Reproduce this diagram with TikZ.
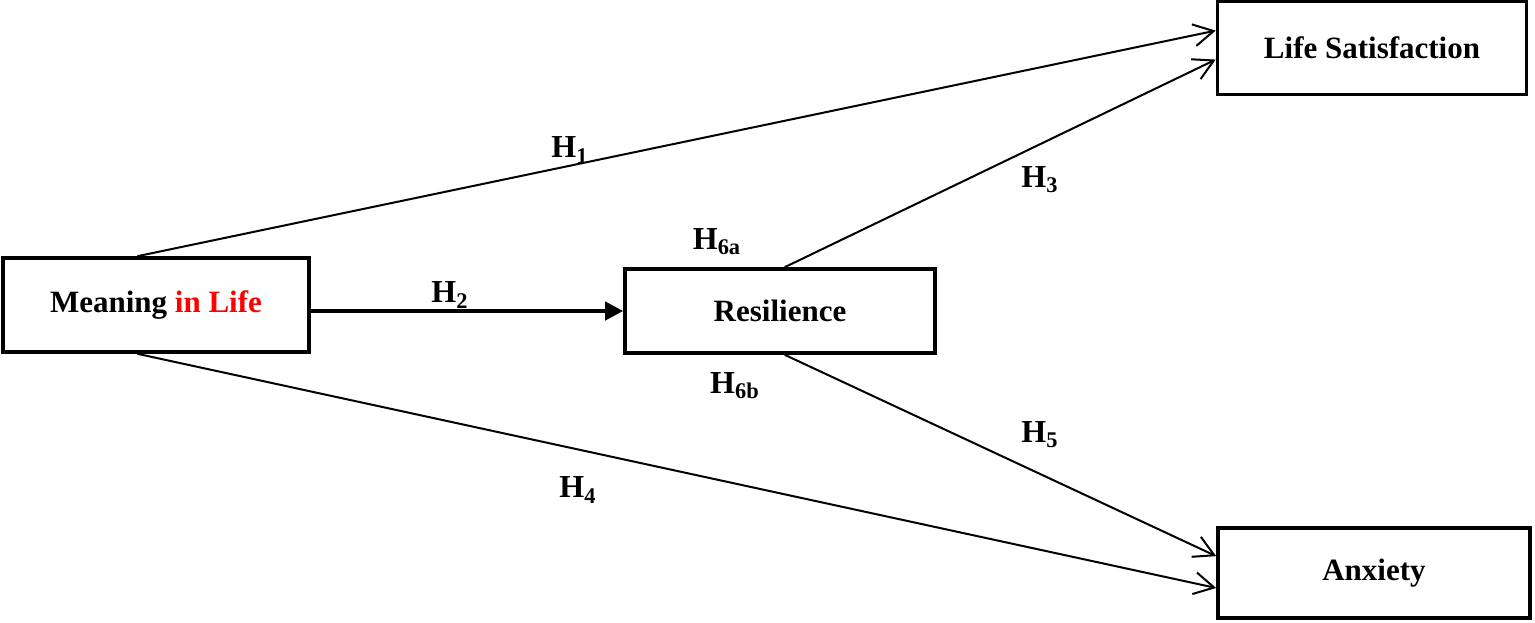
\documentclass[tikz,border=0pt]{standalone}
\usepackage{fontspec}
\setmainfont{Liberation Serif}
\usetikzlibrary{arrows.meta,calc}
\begin{document}
\begin{tikzpicture}[x=0.5pt,y=-0.5pt,
  box/.style={draw,line width=1.8pt,rectangle,align=center,font=\bfseries\fontsize{15.5}{18}\selectfont,inner sep=0pt},
  path/.style={line width=1pt,-{Straight Barb[length=10pt,width=11pt,line width=1pt]}},
  thickpath/.style={line width=2pt,-{Triangle[length=9pt,width=9pt]}},
  hlab/.style={font=\bfseries\fontsize{16}{18}\selectfont,inner sep=0pt}]
\useasboundingbox (0,0) rectangle (1535,622);
\node[box,minimum width=306pt*0.5,minimum height=94pt*0.5] (m) at (156,305) {Meaning \textcolor{red}{in Life}};
\node[box,minimum width=310pt*0.5,minimum height=84pt*0.5] (r) at (780,311) {Resilience};
\node[box,minimum width=309pt*0.5,minimum height=93pt*0.5] (ls) at (1372,48) {Life Satisfaction};
\node[box,minimum width=312pt*0.5,minimum height=90pt*0.5] (ax) at (1374,573) {Anxiety};
\draw[path] ($(m.north west)!0.44!(m.north east)$) -- ($(ls.north west)!0.32!(ls.south west)$);
\draw[path] ($(r.north west)!0.515!(r.north east)$) -- ($(ls.north west)!0.62!(ls.south west)$);
\draw[path] ($(m.south west)!0.44!(m.south east)$) -- ($(ax.north west)!0.66!(ax.south west)$);
\draw[path] ($(r.south west)!0.515!(r.south east)$) -- ($(ax.north west)!0.32!(ax.south west)$);
\draw[thickpath] (r.west -| m.east) -- (r.west);
\node[hlab] (h1) at (570,150) {H\textsubscript{1}};
\node[hlab] (h2) at (450,295) {H\textsubscript{2}};
\node[hlab] (h3) at (1040,180) {H\textsubscript{3}};
\node[hlab] (h4) at (578,490) {H\textsubscript{4}};
\node[hlab] (h5) at (1040,435) {H\textsubscript{5}};
\node[hlab] (h6a) at (717,242) {H\textsubscript{6a}};
\node[hlab] (h6b) at (735,386) {H\textsubscript{6b}};
\end{tikzpicture}
\end{document}
